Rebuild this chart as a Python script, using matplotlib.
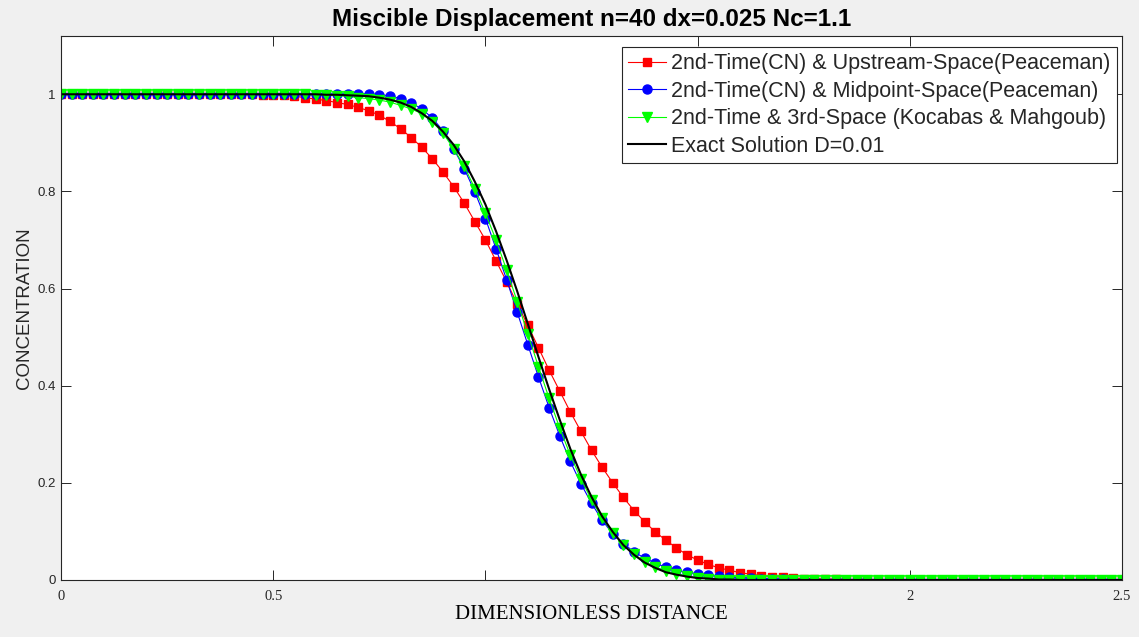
import numpy as np
import matplotlib
matplotlib.use("Agg")
import matplotlib.pyplot as plt

plt.rcParams["font.family"] = ["Liberation Sans", "DejaVu Sans"]

# ── grid: n=40, dx=0.025 over 0..2.5 ────────────────────────────────────────
x = np.round(np.arange(101) * 0.025, 3)

# 2nd-Time(CN) & Upstream-Space(Peaceman)
upstream = [
    1.000, 1.000, 1.000, 1.000, 1.000, 1.000, 1.000, 1.000, 1.000, 1.000,
    1.000, 1.000, 1.000, 1.000, 1.000, 1.000, 1.000, 1.000, 1.000, 0.999,
    0.999, 0.998, 0.996, 0.993, 0.990, 0.987, 0.983, 0.979, 0.973, 0.966,
    0.957, 0.944, 0.929, 0.911, 0.891, 0.867, 0.840, 0.810, 0.776, 0.738,
    0.700, 0.657, 0.614, 0.568, 0.524, 0.478, 0.432, 0.389, 0.346, 0.306,
    0.267, 0.232, 0.200, 0.170, 0.143, 0.120, 0.099, 0.082, 0.066, 0.052,
    0.041, 0.032, 0.025, 0.020, 0.015, 0.012, 0.009, 0.007, 0.006, 0.004,
    0.003, 0.003, 0.002, 0.002, 0.001, 0.001, 0.001, 0.000, 0.000, 0.000,
    0.000, 0.000, 0.000, 0.000, 0.000, 0.000, 0.000, 0.000, 0.000, 0.000,
    0.000, 0.000, 0.000, 0.000, 0.000, 0.000, 0.000, 0.000, 0.000, 0.000,
    0.000,
]

# 2nd-Time(CN) & Midpoint-Space(Peaceman)
midpoint = [
    1.000, 1.000, 1.000, 1.000, 1.000, 1.000, 1.000, 1.000, 1.000, 1.000,
    1.000, 1.000, 1.000, 1.000, 1.000, 1.000, 1.000, 1.000, 1.000, 1.000,
    1.000, 1.000, 1.000, 1.000, 1.000, 1.000, 1.000, 1.001, 1.001, 1.001,
    0.999, 0.997, 0.991, 0.982, 0.970, 0.951, 0.925, 0.888, 0.847, 0.799,
    0.744, 0.682, 0.618, 0.551, 0.484, 0.418, 0.355, 0.297, 0.244, 0.198,
    0.158, 0.123, 0.095, 0.075, 0.058, 0.045, 0.035, 0.026, 0.020, 0.016,
    0.013, 0.010, 0.008, 0.006, 0.005, 0.004, 0.003, 0.002, 0.002, 0.001,
    0.001, 0.000, 0.000, 0.000, 0.000, 0.000, 0.000, 0.000, 0.000, 0.000,
    0.000, 0.000, 0.000, 0.000, 0.000, 0.000, 0.000, 0.000, 0.000, 0.000,
    0.000, 0.000, 0.000, 0.000, 0.000, 0.000, 0.000, 0.000, 0.000, 0.000,
    0.000,
]

# 2nd-Time & 3rd-Space (Kocabas & Mahgoub)
third = [
    1.000, 1.000, 1.000, 1.000, 1.000, 1.000, 1.000, 1.000, 1.000, 1.000,
    1.000, 1.000, 1.000, 1.000, 1.000, 1.000, 1.000, 1.000, 1.000, 1.000,
    1.000, 1.000, 1.000, 1.000, 0.999, 0.999, 0.997, 0.996, 0.993, 0.991,
    0.988, 0.984, 0.977, 0.970, 0.960, 0.943, 0.920, 0.888, 0.852, 0.806,
    0.755, 0.700, 0.638, 0.573, 0.506, 0.439, 0.374, 0.313, 0.257, 0.208,
    0.165, 0.127, 0.097, 0.072, 0.053, 0.038, 0.027, 0.019, 0.013, 0.008,
    0.005, 0.003, 0.001, 0.000, 0.000, 0.000, 0.000, 0.000, 0.000, 0.000,
    0.000, 0.000, 0.000, 0.000, 0.000, 0.000, 0.000, 0.000, 0.000, 0.000,
    0.000, 0.000, 0.000, 0.000, 0.000, 0.000, 0.000, 0.000, 0.000, 0.000,
    0.000, 0.000, 0.000, 0.000, 0.000, 0.000, 0.000, 0.000, 0.000, 0.000,
    0.000,
]

# Exact Solution D=0.01
exact = [
    1.000, 1.000, 1.000, 1.000, 1.000, 1.000, 1.000, 1.000, 1.000, 1.000,
    1.000, 1.000, 1.000, 1.000, 1.000, 1.000, 1.000, 1.000, 1.000, 1.000,
    1.000, 1.000, 1.000, 1.000, 1.000, 0.999, 0.999, 0.998, 0.997, 0.996,
    0.993, 0.989, 0.983, 0.974, 0.961, 0.945, 0.923, 0.896, 0.862, 0.820,
    0.773, 0.718, 0.658, 0.594, 0.527, 0.459, 0.393, 0.330, 0.270, 0.217,
    0.171, 0.131, 0.099, 0.072, 0.052, 0.036, 0.025, 0.016, 0.011, 0.007,
    0.004, 0.003, 0.001, 0.001, 0.000, 0.000, 0.000, 0.000, 0.000, 0.000,
    0.000, 0.000, 0.000, 0.000, 0.000, 0.000, 0.000, 0.000, 0.000, 0.000,
    0.000, 0.000, 0.000, 0.000, 0.000, 0.000, 0.000, 0.000, 0.000, 0.000,
    0.000, 0.000, 0.000, 0.000, 0.000, 0.000, 0.000, 0.000, 0.000, 0.000,
    0.000,
]

x_ticks = [0, 0.5, 1, 1.5, 2, 2.5]
x_tick_labels = ["0", "0.5", "", "", "2", "2.5"]
y_ticks = [0, 0.2, 0.4, 0.6, 0.8, 1]
y_tick_labels = ["0", "0.2", "0.4", "0.6", "0.8", "1"]

AX_COL = "#262626"

fig = plt.figure(figsize=(11.39, 6.37), dpi=100, facecolor="#f0f0f0")
ax = fig.add_axes([0.0536, 0.0895, 0.9315, 0.854])
ax.set_facecolor("white")

ax.plot(x, upstream, "-s", color="#ff0000", lw=0.8, ms=5.8,
        mfc="#ff0000", mec="#ff0000",
        label="2nd-Time(CN) & Upstream-Space(Peaceman)")
ax.plot(x, midpoint, "-o", color="#0000ff", lw=0.8, ms=6.5,
        mfc="#0000ff", mec="#0000ff",
        label="2nd-Time(CN) & Midpoint-Space(Peaceman)")
ax.plot(x, third, "-v", color="#00ff00", lw=0.8, ms=6.5,
        mfc="#00ff00", mec="#00ff00",
        label="2nd-Time & 3rd-Space (Kocabas & Mahgoub)")
ax.plot(x, exact, "-", color="black", lw=1.5, label="Exact Solution D=0.01")

ax.set_xlim(0, 2.5)
ax.set_ylim(0, 1.12)
ax.set_xticks(x_ticks)
ax.set_xticklabels(x_tick_labels, fontfamily="Liberation Serif", fontsize=10.5)
ax.set_yticks(y_ticks)
ax.set_yticklabels(y_tick_labels, fontfamily="Liberation Sans", fontsize=9.5)
ax.tick_params(direction="in", length=7.5, width=0.7, colors=AX_COL,
               top=True, right=True, pad=4)
ax.tick_params(axis="x", pad=7)
for s in ax.spines.values():
    s.set_color(AX_COL)
    s.set_linewidth(0.8)

ax.set_title("Miscible Displacement n=40 dx=0.025 Nc=1.1",
             fontfamily="Liberation Sans", fontweight="bold", fontsize=17.5,
             pad=7)
ax.set_xlabel("DIMENSIONLESS DISTANCE", fontfamily="Liberation Serif",
              fontsize=15, labelpad=2)
ax.set_ylabel("CONCENTRATION", fontfamily="Liberation Sans", fontsize=13.5,
              color=AX_COL, labelpad=3)

leg = ax.legend(loc="upper right", bbox_to_anchor=(0.9953, 0.9798),
                borderaxespad=0, fancybox=False, framealpha=1,
                edgecolor=AX_COL, labelspacing=0.3,
                handlelength=1.75, handletextpad=0.25, borderpad=0.3,
                prop={"family": "Liberation Sans", "size": 15.5})
leg.get_frame().set_linewidth(0.8)
for t in leg.get_texts():
    t.set_color(AX_COL)

fig.savefig("out.png", dpi=100, facecolor=fig.get_facecolor())
